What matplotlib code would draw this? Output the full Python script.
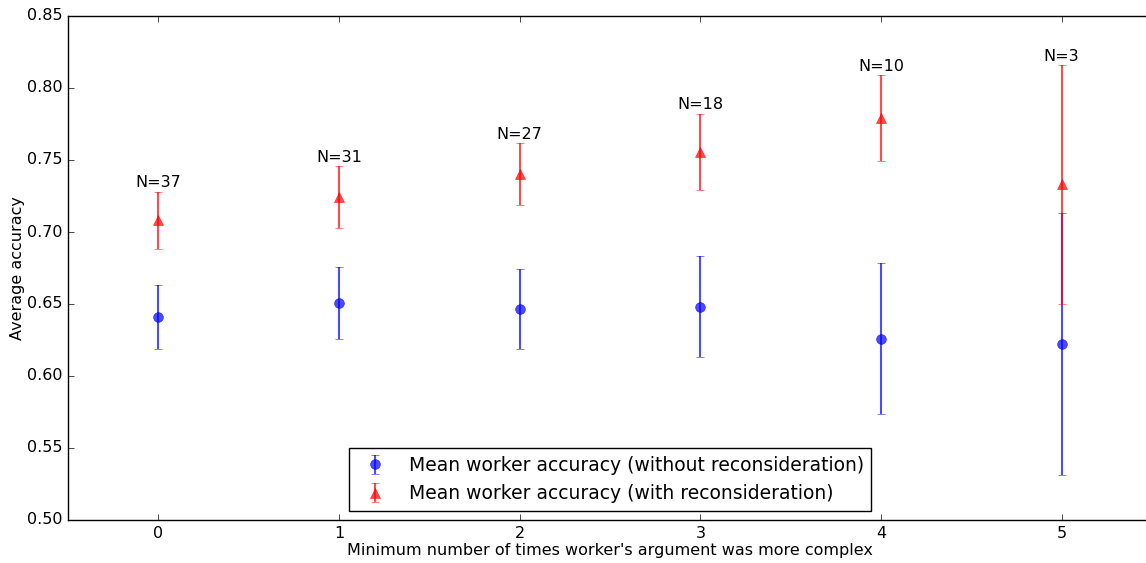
import matplotlib
matplotlib.use('Agg')
import matplotlib.pyplot as plt

plt.style.use('classic')
plt.rcParams['figure.facecolor'] = 'white'
plt.rcParams['savefig.facecolor'] = 'white'

complexity = [0, 1, 2, 3, 4, 5]
counts = [37, 31, 27, 18, 10, 3]
acc_without = [0.641, 0.651, 0.6465, 0.648, 0.626, 0.622]
err_without = [0.022, 0.025, 0.0275, 0.035, 0.0525, 0.091]
acc_with = [0.708, 0.724, 0.740, 0.7555, 0.779, 0.733]
err_with = [0.020, 0.0215, 0.0215, 0.0265, 0.030, 0.083]

fig = plt.figure(figsize=(11.46, 5.63), dpi=100)
ax = fig.add_axes([68 / 1146, 43 / 563, 1084 / 1146, 504 / 563])

ax.errorbar(complexity, acc_without, yerr=err_without, fmt='o', color='b',
            ecolor='b', alpha=0.7, markersize=7, markeredgecolor='b',
            elinewidth=1.5, capsize=3,
            label='Mean worker accuracy (without reconsideration)')
ax.errorbar(complexity, acc_with, yerr=err_with, fmt='^', color='r',
            ecolor='r', alpha=0.7, markersize=7, markeredgecolor='r',
            elinewidth=1.5, capsize=3,
            label='Mean worker accuracy (with reconsideration)')

for x, y, e, n in zip(complexity, acc_with, err_with, counts):
    ax.text(x, y + e + 0.001, 'N=%d' % n, ha='center', va='bottom', fontsize=11.5)

ax.set_xlim(-0.5, 5.5)
ax.set_ylim(0.5, 0.85)
ax.set_xticks(complexity)
yt = [0.5, 0.55, 0.6, 0.65, 0.7, 0.75, 0.8, 0.85]
ax.set_yticks(yt)
ax.set_yticklabels(['%.2f' % v for v in yt])
ax.tick_params(labelsize=11.5)
ax.set_xlabel("Minimum number of times worker's argument was more complex",
              fontsize=11.5, labelpad=2)
ax.set_ylabel('Average accuracy', fontsize=11.5, labelpad=1)
ax.legend(loc='lower center', numpoints=1, fontsize=13.5)

fig.savefig('out.png', dpi=100)
